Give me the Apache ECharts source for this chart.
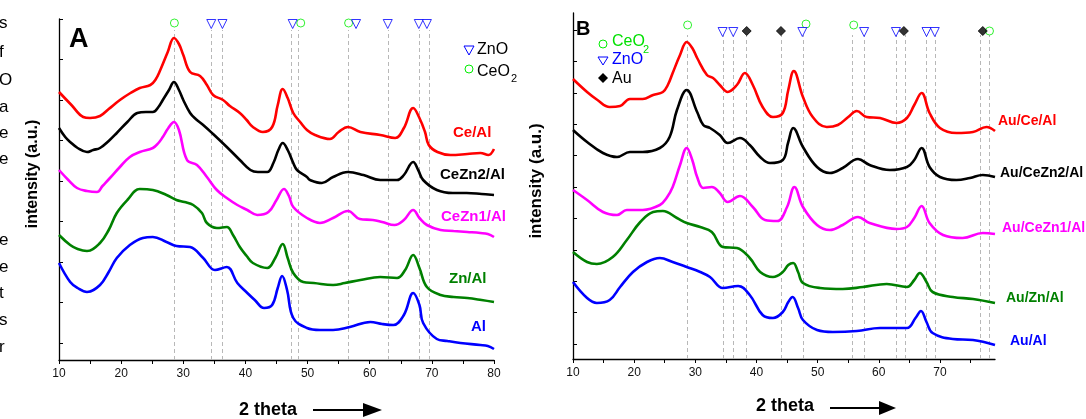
<!DOCTYPE html>
<html><head><meta charset="utf-8">
<script src="https://cdn.jsdelivr.net/npm/echarts@6/dist/echarts.min.js"></script>
<style>html,body{margin:0;padding:0;background:#fff;overflow:hidden}#c{width:1086px;height:419px}</style>
</head><body><div id="c"></div>
<script>
// ---------- Panel A data: [2theta, intensity (a.u., offset stacked)] ----------
const A_CeAl = [[10,268],[12,255],[13.9,243],[15,242],[16.6,244],[18,251],[19.8,260],[21.5,267],[23,272],[24.7,275],[25.5,280],[26.3,290],[27.5,308],[28.5,322],[29.3,316],[30,305],[31.1,288],[32.7,284],[33.8,275],[34.8,265],[36.4,260],[37.5,254],[39.1,247],[40.2,240],[41.2,233],[42.8,228],[44.3,233],[45.2,255],[46,271],[46.8,262],[47.7,247],[48.8,238],[49.9,230],[51.2,225],[53.6,221],[55,228],[56.5,233],[58.5,228],[61.7,225],[64.1,222],[65.5,232],[67,252],[68,242],[68.9,228],[69.5,215],[70.9,208],[73,205],[75.7,206],[77.8,207],[79.1,205],[80,211]];
const A_CeZn2Al = [[10,232],[11,223],[11.8,218],[13,212],[14.5,208],[15.5,210],[16.6,212],[18,219],[19.3,227],[21,238],[22.6,247],[24,248],[25.1,248],[26,253],[26.7,260],[27.7,270],[28.5,278],[29.3,270],[30,260],[31.1,247],[32,241],[33.2,235],[34.8,226],[37,213],[39.1,200],[40.8,190],[42,188],[43.5,188],[44.5,197],[45.3,210],[46,217],[46.8,210],[47.7,197],[48.3,190],[49.9,183],[50.4,180],[52.3,177],[54.1,183],[56.5,188],[59,185],[61.7,180],[64.4,180],[65.5,185],[67,198],[67.8,190],[68.6,180],[70.8,170],[73.4,167],[75.6,167],[78,166],[80,165]];
const A_CeZn1Al = [[10,190],[11.5,180],[12.9,172],[14.5,169],[16.1,168],[17,174],[18.2,182],[19.8,193],[21.4,203],[23,208],[25.1,212],[26,217],[26.7,223],[27.6,232],[28.5,238],[29.3,230],[30.6,200],[32.2,195],[33.8,183],[35.4,170],[37,162],[38.7,155],[40.3,150],[41.9,145],[43.7,148],[45,160],[46.2,171],[47,164],[47.7,153],[49.9,142],[52,137],[54.1,142],[56.5,149],[58.4,141],[60.5,140],[62,138],[64,135],[65.5,140],[67,150],[68,142],[69.2,135],[71.4,130],[73.5,129],[75.7,128],[77.8,127],[79,126],[80,123]];
const A_ZnAl = [[10,125],[11.8,115],[13,111],[14.5,109],[16.6,117],[18,130],[19.3,147],[21,160],[23,171],[25.1,170],[27.3,165],[28.9,160],[30.2,158],[31.6,155],[33,147],[33.8,137],[35.4,132],[37,133],[38,125],[39.1,113],[40.2,104],[41.2,97],[43.5,92],[44.8,102],[46,116],[46.8,102],[47.7,87],[49.3,78],[51,77],[54.1,75],[56,77],[58.5,80],[61.7,83],[64.4,82],[65.7,90],[67,105],[68,92],[69.2,73],[71.4,65],[73.5,63],[75.7,62],[78,60],[80,58]];
const A_Al = [[10,97],[11.8,78],[13,72],[14.5,68],[16.6,75],[18,88],[19.3,102],[21.4,115],[23.5,122],[25.1,123],[27.3,118],[28.9,114],[31.1,113],[33.2,102],[35.1,90],[37,93],[38.7,77],[40.3,67],[41.5,60],[43,52],[44.3,55],[45.2,72],[45.9,84],[46.7,70],[47.7,42],[49.9,32],[52,30],[54.1,30],[56.8,33],[60.1,38],[62,36],[63.8,35],[65.5,45],[67,67],[68,55],[68.6,37],[70.8,21],[72.5,19],[74.6,17],[77.8,15],[79,14],[80,11]];

// ---------- Panel B data ----------
const B_AuCeAl = [[10,280],[12.3,267],[14,259],[16,252],[17.7,253],[19.3,260],[21.4,260],[23.1,264],[24.7,267],[25.5,274],[26.3,286],[27.5,304],[28.6,317],[29.5,311],[30.3,301],[31.9,284],[32.9,281],[34,274],[35.3,267],[36.8,274],[38.1,286],[39.4,274],[41,252],[42.7,242],[44.3,246],[45.2,269],[46.1,288],[47.6,262],[49.2,242],[51.5,232],[53.3,234],[55,242],[56.4,248],[58,242],[60.2,241],[62.9,236],[64.6,241],[65.8,254],[67,266],[68.3,246],[70,231],[72.7,226],[75.4,227],[77.6,232],[79,228]];
const B_AuCeZn2Al = [[10,229],[12.3,217],[14.9,206],[17.2,202],[19.3,207],[21.4,207],[24.2,211],[25.8,222],[27,249],[28.6,269],[30.3,247],[31.3,234],[32.4,231],[34,224],[35.3,216],[37.3,221],[38.9,214],[40.6,202],[42.2,196],[44.3,199],[45.2,217],[46,231],[47.6,212],[49.9,192],[52,186],[54.1,191],[56.6,200],[58.5,194],[61.8,189],[64.6,192],[65.8,199],[67,211],[68.3,192],[70,182],[72.7,179],[74.9,181],[77,184],[79,182]];
const B_AuCeZn1Al = [[10,169],[12.3,159],[14.9,147],[17.2,144],[18.8,149],[21.4,149],[24.2,154],[25.3,161],[26.3,172],[27.5,194],[28.6,211],[29.5,199],[30.3,182],[31.3,171],[32.7,172],[34,166],[35.3,157],[37.3,163],[39.4,152],[41.4,139],[43.4,138],[45,152],[46.2,172],[47.6,152],[49.9,134],[52,129],[54.1,134],[56.6,142],[58.5,136],[62.9,130],[64.6,132],[65.8,141],[67,153],[68.3,136],[70.5,124],[73.7,121],[77,126],[79,125]];
const B_AuZnAl = [[10,107],[12.3,97],[13.9,95],[16.5,102],[18.8,119],[21,137],[23.1,147],[24.7,148],[27,141],[28.6,136],[30.8,132],[32.7,127],[34.5,112],[36.8,111],[38.9,101],[40.6,87],[42.7,82],[44.3,87],[45.2,94],[46,96],[46.8,87],[47.6,76],[50.4,71],[54.1,70],[57.4,72],[61.3,75],[64.6,72],[65.8,79],[66.7,86],[67.8,77],[68.8,67],[72.1,62],[75.4,60],[79,56]];
const B_AuAl = [[10,77],[12.3,61],[13.9,56],[16,59],[17.7,72],[19.8,87],[22.1,97],[24.2,101],[26.3,97],[28.6,92],[30.8,87],[32.4,82],[34.5,71],[37,73],[38.9,64],[41,44],[42.7,41],[44.3,47],[45.2,57],[45.9,62],[46.8,51],[47.6,39],[49.9,29],[52.5,27],[56.4,28],[60.2,31],[64.6,31],[66,41],[66.9,48],[67.8,37],[68.8,26],[72.1,20],[75.4,19],[79,14]];

// ---------- reference peak markers / dashed lines ----------
const A_dash = [28.57,34.5,36.3,47.3,48.5,56.6,63.0,67.9,69.5];
const A_CeO2 = [[28.57,337],[48.9,337],[56.6,337]];
const A_ZnO = [[34.5,336],[36.3,336],[47.6,336],[57.8,336],[62.9,336],[67.9,336],[69.2,336]];
const B_dash = [28.7,34.5,36.2,38.4,44.1,47.7,55.6,57.6,62.9,64.4,67.8,69.3,76.6,78.0];
const B_CeO2 = [[28.74,334],[48.1,335],[55.9,334],[78.1,328]];
const B_ZnO = [[34.46,327],[36.2,327],[47.5,327],[57.6,327],[62.8,327],[67.8,327],[69.15,327]];
const B_Au = [[38.4,328],[44.0,328],[64.1,328],[77.0,328]];

const A_ticksY = [17,57.5,98,138.5,179,219.5,260,300.5,341];
const B_ticksY = [15,46.4,77.8,109.2,140.6,172,203.4,234.8,266.2,297.6,329];
const A_ticksX = [10,15,20,25,30,35,40,45,50,55,60,65,70,75,80];
const A_labelsX = [10,20,30,40,50,60,70,80];
const B_ticksX = [10,15,20,25,30,35,40,45,50,55,60,65,70,75];
const B_labelsX = [10,20,30,40,50,60,70];

const FF = '"Liberation Sans", Arial, Helvetica, sans-serif';
const chart = echarts.init(document.getElementById('c'), null, {renderer:'canvas'});

function xAx(idx, min, max, ticks, labels){
  return {type:'value', gridIndex:idx, min:min, max:max, interval:5,
    axisLine:{show:true, lineStyle:{color:'#000', width:1.3}},
    axisTick:{show:true, length:4, customValues:ticks, lineStyle:{color:'#000', width:1}},
    axisLabel:{show:true, customValues:labels, color:'#111', fontSize:12, fontFamily:FF, margin:8,
      formatter:v=> (v%10===0 ? String(v) : '')},
    splitLine:{show:false}};
}
function yAx(idx, max, ticks){
  return {type:'value', gridIndex:idx, min:0, max:max,
    axisLine:{show:true, onZero:false, lineStyle:{color:'#000', width:1.3}},
    axisTick:{show:true, inside:true, length:4, customValues:ticks, lineStyle:{color:'#000', width:1}},
    axisLabel:{show:false}, splitLine:{show:false}};
}
function curve(data, color, gi){
  return {type:'line', data:data, xAxisIndex:gi, yAxisIndex:gi, smooth:0.4, showSymbol:false, symbol:'none',
    lineStyle:{color:color, width:2.6}, z:5, silent:true};
}
function dashLines(arr, top){
  return arr.map(x=>[{coord:[x,0]},{coord:[x,top]}]);
}
function markers(data, gi, symbol, rotate, fill, stroke, size, dash, top){
  const s = {type:'scatter', data:data, xAxisIndex:gi, yAxisIndex:gi, symbol:symbol, symbolRotate:rotate, symbolSize:size,
    itemStyle:{color:fill, borderColor:stroke, borderWidth:1}, z:6, silent:true};
  if (dash) s.markLine = {silent:true, symbol:['none','none'], label:{show:false},
    lineStyle:{type:[4,3], color:'#b8b8b8', width:1}, data:dashLines(dash, top), z:1};
  return s;
}

function txt(x,y,t,font,color,align){
  return {type:'text', x:x, y:y, z:10, style:{text:t, font:font, fill:color||'#000', textAlign:align||'left', textVerticalAlign:'middle'}};
}

const leftLetters = [['s',23],['f',52],['O',80],['a',107],['e',133],['e',159],['e',240],['e',267],['t',293],['s',320],['r',347]];

const graphics = [
  {type:'text', x:33, y:174, rotation:Math.PI/2, z:10, style:{text:'intensity (a.u.)', font:'bold 16px '+FF, fill:'#000', textAlign:'center', textVerticalAlign:'middle'}},
  {type:'text', x:536, y:181, rotation:Math.PI/2, z:10, style:{text:'intensity (a.u.)', font:'bold 17px '+FF, fill:'#000', textAlign:'center', textVerticalAlign:'middle'}},
  txt(69,40,'A','bold 27px '+FF),
  txt(576,29,'B','bold 20px '+FF),
  // legend A
  {type:'polygon', z:10, shape:{points:[[464,46],[474,46],[469,55]]}, style:{fill:'none', stroke:'#0000ff', lineWidth:1}},
  txt(477,50,'ZnO','16px '+FF),
  {type:'circle', z:10, shape:{cx:469, cy:69, r:4}, style:{fill:'none', stroke:'#00ee00', lineWidth:1}},
  txt(477,72,'CeO','16px '+FF),
  txt(511,79,'2','11px '+FF),
  // legend B
  {type:'circle', z:10, shape:{cx:603, cy:44, r:4}, style:{fill:'none', stroke:'#00ee00', lineWidth:1}},
  txt(612,42,'CeO','16px '+FF,'#00e000'),
  txt(643,50,'2','11px '+FF,'#00e000'),
  {type:'polygon', z:10, shape:{points:[[598,57],[608,57],[603,65]]}, style:{fill:'none', stroke:'#0000ff', lineWidth:1}},
  txt(612,60,'ZnO','16px '+FF,'#0000ff'),
  {type:'polygon', z:10, shape:{points:[[603,73],[608,78],[603,83],[598,78]]}, style:{fill:'#000'}},
  txt(612,79,'Au','16px '+FF),
  // x titles and arrows
  txt(268,410,'2 theta','bold 18px '+FF,'#000','center'),
  {type:'line', z:10, shape:{x1:313,y1:410,x2:366,y2:410}, style:{stroke:'#000', lineWidth:2}},
  {type:'polygon', z:10, shape:{points:[[363,403],[382,410],[363,417]]}, style:{fill:'#000'}},
  txt(785,406,'2 theta','bold 18px '+FF,'#000','center'),
  {type:'line', z:10, shape:{x1:830,y1:408,x2:882,y2:408}, style:{stroke:'#000', lineWidth:2}},
  {type:'polygon', z:10, shape:{points:[[879,401],[896,408],[879,415]]}, style:{fill:'#000'}},
  // series labels A
  txt(453,133,'Ce/Al','bold 15px '+FF,'#ff0000'),
  txt(440,175,'CeZn2/Al','bold 15px '+FF,'#000'),
  txt(441,217,'CeZn1/Al','bold 15px '+FF,'#ff00ff'),
  txt(449,279,'Zn/Al','bold 15px '+FF,'#008000'),
  txt(471,327,'Al','bold 15px '+FF,'#0000ff'),
  // series labels B
  txt(998,121,'Au/Ce/Al','bold 14px '+FF,'#ff0000'),
  txt(1000,173,'Au/CeZn2/Al','bold 14px '+FF,'#000'),
  txt(1002,228,'Au/CeZn1/Al','bold 14px '+FF,'#ff00ff'),
  txt(1006,298,'Au/Zn/Al','bold 14px '+FF,'#008000'),
  txt(1010,341,'Au/Al','bold 14px '+FF,'#0000ff')
].concat(leftLetters.map(l=>txt(-1,l[1],l[0],'17px '+FF)));

chart.setOption({
  animation:false,
  backgroundColor:'#fff',
  grid:[{left:59, right:592, top:19, bottom:59}, {left:573, right:91, top:13, bottom:60}],
  xAxis:[xAx(0,10,80,A_ticksX,A_labelsX), xAx(1,10,79,B_ticksX,B_labelsX)],
  yAxis:[yAx(0,341,A_ticksY), yAx(1,346,B_ticksY)],
  series:[
    markers(A_CeO2,0,'circle',0,'#fff','#00ee00',8,A_dash,330),
    markers(A_ZnO,0,'triangle',180,'#fff','#0000ff',9,null),
    curve(A_CeAl,'#ff0000',0), curve(A_CeZn2Al,'#000000',0), curve(A_CeZn1Al,'#ff00ff',0), curve(A_ZnAl,'#008000',0), curve(A_Al,'#0000ff',0),
    markers(B_CeO2,1,'circle',0,'#fff','#00ee00',8,B_dash,324),
    markers(B_ZnO,1,'triangle',180,'#fff','#0000ff',9,null),
    markers(B_Au,1,'diamond',0,'#000','#000',9,null),
    curve(B_AuCeAl,'#ff0000',1), curve(B_AuCeZn2Al,'#000000',1), curve(B_AuCeZn1Al,'#ff00ff',1), curve(B_AuZnAl,'#008000',1), curve(B_AuAl,'#0000ff',1)
  ],
  graphic:graphics
});
</script></body></html>
